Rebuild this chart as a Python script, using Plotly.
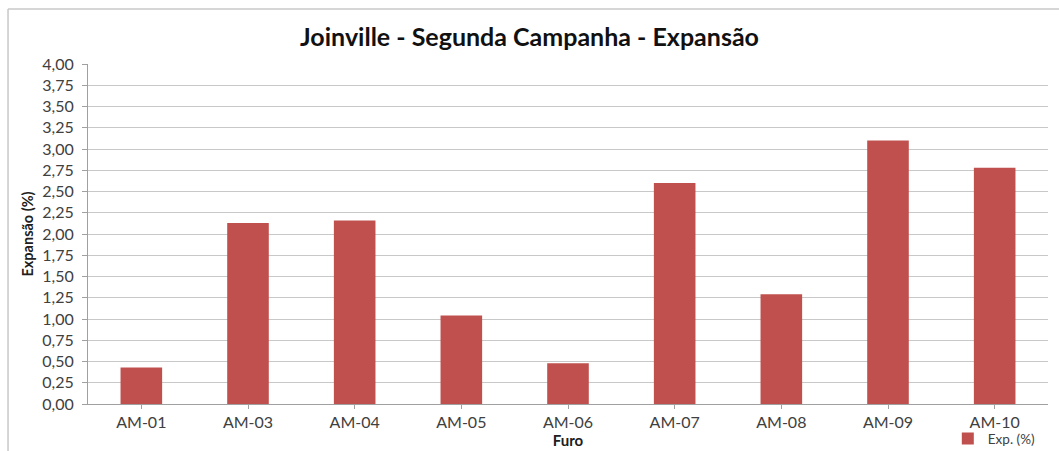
import plotly.graph_objects as go

categories = ["AM-01", "AM-03", "AM-04", "AM-05", "AM-06", "AM-07", "AM-08", "AM-09", "AM-10"]
expansao = [0.43, 2.13, 2.16, 1.04, 0.48, 2.60, 1.29, 3.10, 2.78]
y_ticks = [0, 0.25, 0.5, 0.75, 1.0, 1.25, 1.5, 1.75, 2.0, 2.25, 2.5, 2.75, 3.0, 3.25, 3.5, 3.75, 4.0]

FONT = "Lato, 'Open Sans', sans-serif"

fig = go.Figure()
fig.add_trace(go.Bar(
    x=categories, y=expansao, name="Exp. (%)",
    marker=dict(color="#C0504D", line=dict(width=0)),
))

fig.update_layout(
    width=1059, height=451,
    margin=dict(l=88, r=11, t=64, b=47, autoexpand=False),
    paper_bgcolor="white", plot_bgcolor="white",
    separators=",.",
    bargap=0.61,
    font=dict(family=FONT, size=15, color="#404040"),
    title=dict(text="<b>Joinville - Segunda Campanha - Expansão</b>",
               x=0.5, xanchor="center", y=0.918, yanchor="middle",
               font=dict(family=FONT, size=25, color="#111111")),
    showlegend=True,
    legend=dict(xref="container", yref="container", x=0.895, y=0.027,
                xanchor="left", yanchor="middle",
                bgcolor="rgba(0,0,0,0)", font=dict(size=13.5, color="#404040"),
                itemwidth=30),
    xaxis=dict(
        title=dict(text="<b>Furo</b>", font=dict(size=15, color="#202020"), standoff=2),
        showline=True, linecolor="#a0a0a0", linewidth=1,
        ticks="outside", ticklen=4, tickcolor="#a0a0a0",
        showgrid=False, tickfont=dict(size=16, color="#404040"),
        automargin=False,
    ),
    yaxis=dict(
        title=dict(text="<b>Expansão (%)</b>", font=dict(size=14.5, color="#202020"), standoff=5),
        range=[0, 4.0], tickvals=y_ticks, tickformat=".2f",
        showline=True, linecolor="#a0a0a0", linewidth=1,
        ticks="outside", ticklen=5, tickcolor="#a0a0a0",
        ticklabelstandoff=5,
        showgrid=True, gridcolor="#c8c8c8", gridwidth=1.4,
        tickfont=dict(size=16, color="#404040"), zeroline=False,
        automargin=False,
    ),
    shapes=[
        dict(type="line", xref="paper", yref="paper", x0=-0.0833, x1=1.02, y0=1.1618, y1=1.1618,
             line=dict(color="#c8c8c8", width=1.5)),
        dict(type="line", xref="paper", yref="paper", x0=-0.0833, x1=-0.0833, y0=1.1618, y1=-0.14,
             line=dict(color="#c8c8c8", width=1.5)),
    ],
)

fig.write_html("out.html", config={"displayModeBar": False},
               post_script="document.body.style.margin='0';")
